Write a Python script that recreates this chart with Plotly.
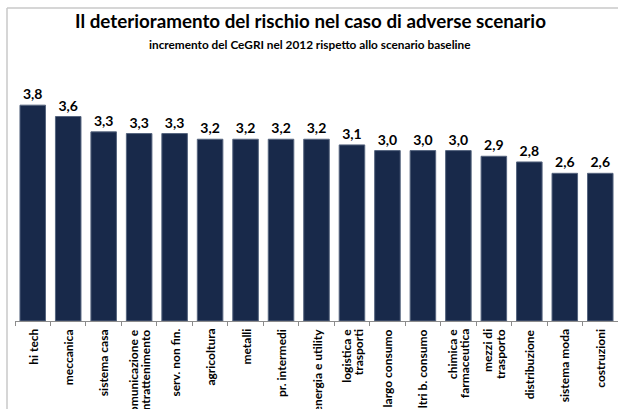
import plotly.graph_objects as go

categories = ["hi tech", "meccanica", "sistema casa", "comunicazione e\nintrattenimento",
              "serv. non fin.", "agricoltura", "metalli", "pr. intermedi", "energia e utility",
              "logistica e\ntrasporti", "largo consumo", "altri b. consumo", "chimica e\nfarmaceutica",
              "mezzi di\ntrasporto", "distribuzione", "sistema moda", "costruzioni"]
values = [3.8, 3.6, 3.33, 3.3, 3.3, 3.2, 3.2, 3.2, 3.2, 3.1, 3.0, 3.0, 3.0, 2.9, 2.8, 2.6, 2.6]

title = "Il deterioramento del rischio nel caso di adverse scenario"
subtitle = "incremento del CeGRI nel 2012 rispetto allo scenario baseline"

FONT = "Lato"

fig = go.Figure(go.Bar(
    x=categories, y=values,
    marker=dict(color="#18294a", line=dict(color="#56657f", width=1)),
    texttemplate="%{y:.1f}", textposition="outside", cliponaxis=False,
    textfont=dict(family=FONT, size=14, color="#000000", weight="bold"),
    width=0.72,
))

W, H = 618, 409
ml, mr, mt, mb = 15, 0, 80, 88
pw, ph = W - ml - mr, H - mt - mb

def px(x):
    return (x - ml) / pw

def py(y):
    return (H - mb - y) / ph

annotations = [
    dict(text=title, x=px(310), y=py(20), xref="paper", yref="paper", showarrow=False,
         font=dict(family=FONT, size=18.8, color="#000000", weight="bold"),
         xanchor="center", yanchor="middle"),
    dict(text=subtitle, x=px(310), y=py(44), xref="paper", yref="paper", showarrow=False,
         font=dict(family=FONT, size=11.8, color="#000000", weight="bold"),
         xanchor="center", yanchor="middle"),
]

for cat in categories:
    lines = cat.split("\n")
    n = len(lines)
    for i, ln in enumerate(lines):
        shift = (i - (n - 1) / 2) * 12.5
        annotations.append(dict(
            text=ln, x=cat, y=py(327), xref="x", yref="paper", showarrow=False,
            textangle=-90, xanchor="center", yanchor="top", xshift=shift,
            font=dict(family=FONT, size=12, color="#000000", weight="bold"),
        ))

fig.update_layout(
    width=W, height=H, autosize=False,
    margin=dict(l=ml, r=mr, t=mt, b=mb),
    paper_bgcolor="white", plot_bgcolor="white",
    separators=",.",
    showlegend=False,
    font=dict(family=FONT),
    xaxis=dict(type="category", showticklabels=False, showline=True, linecolor="#8c8c8c", linewidth=1,
               ticks="outside", tickson="boundaries", ticklen=4, tickcolor="#8c8c8c",
               showgrid=False, zeroline=False, fixedrange=True),
    yaxis=dict(range=[0, 4.243], visible=False, showgrid=False, zeroline=False),
    annotations=annotations,
    shapes=[
        dict(type="line", xref="paper", yref="paper", x0=px(7), x1=px(7), y0=py(8), y1=py(420),
             line=dict(color="#c8c8c8", width=1.5)),
        dict(type="line", xref="paper", yref="paper", x0=px(7), x1=px(630), y0=py(8), y1=py(8),
             line=dict(color="#c8c8c8", width=1.5)),
    ],
)

fig.write_html("out.html")
